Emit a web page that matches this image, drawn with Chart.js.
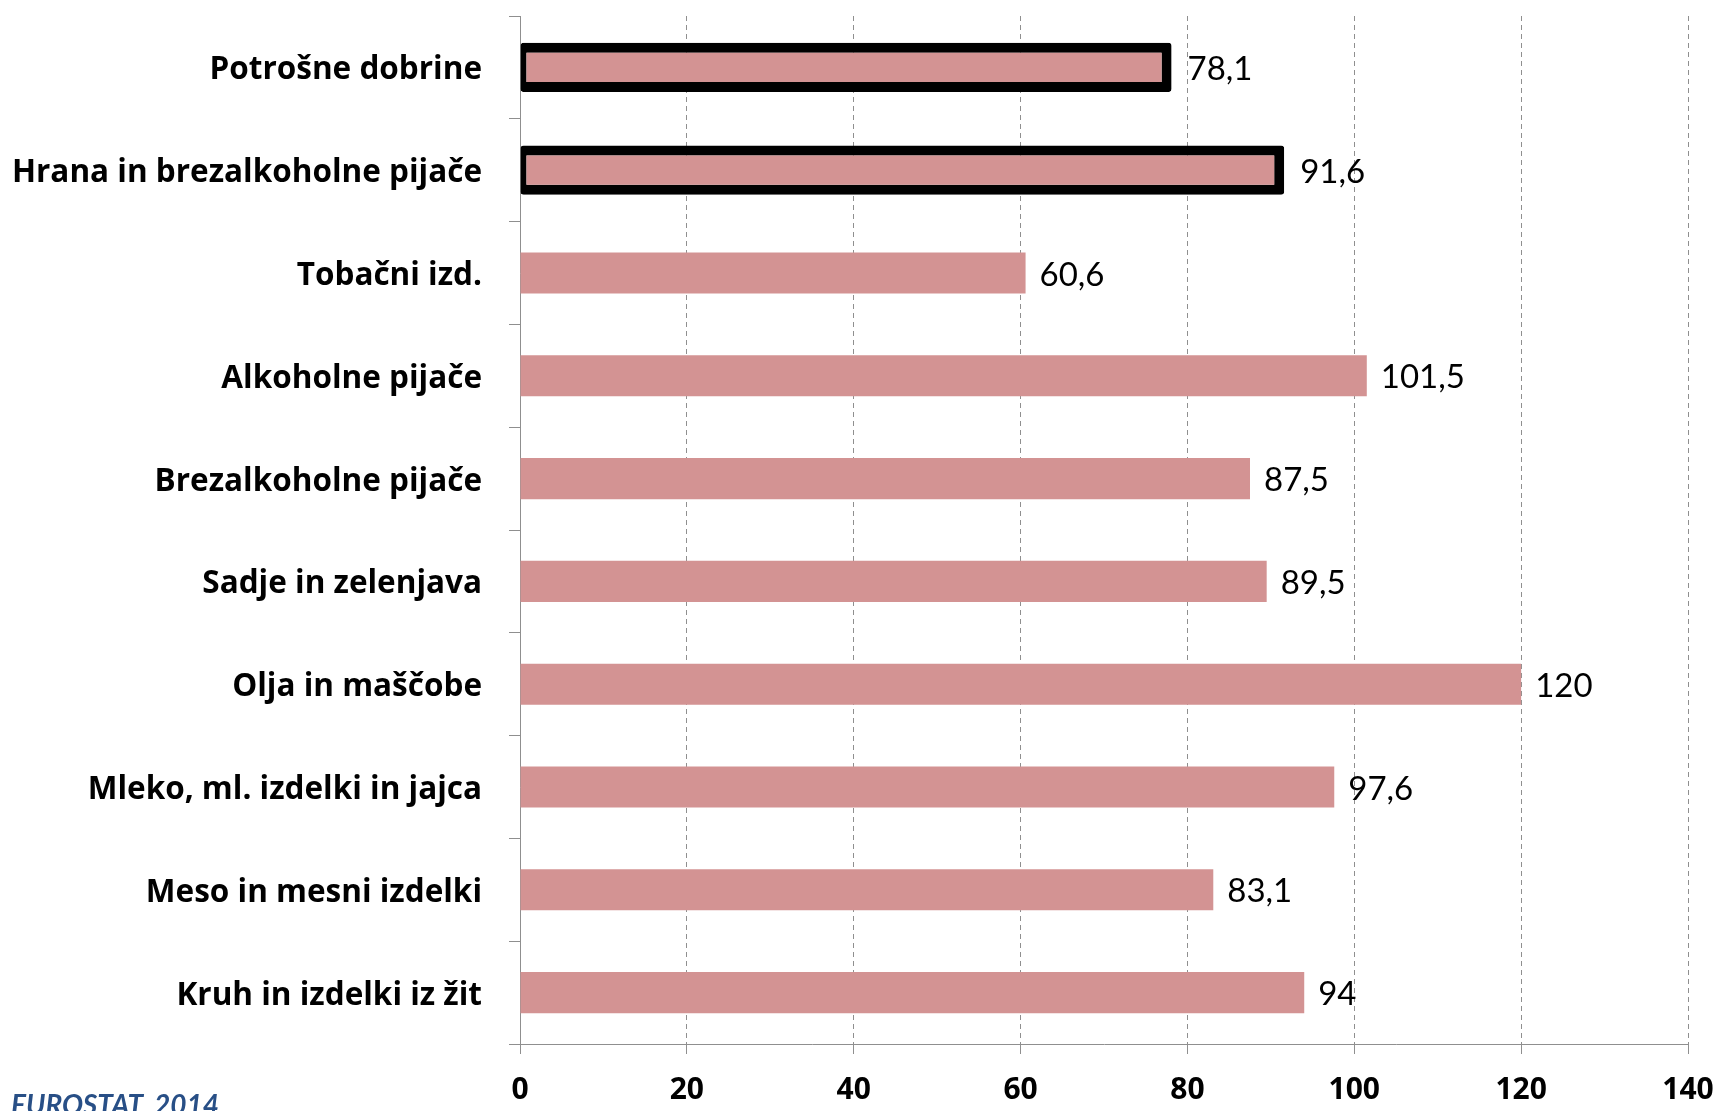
<!DOCTYPE html>
<html>
<head>
<meta charset="utf-8">
<script src="https://cdn.jsdelivr.net/npm/chart.js@4"></script>
<style>
    html, body { margin: 0; padding: 0; background: #fff; overflow: hidden; }
    #wrap { position: relative; width: 1724px; height: 1111px; }
    #source {
        position: absolute; left: 11px; top: 1090px;
        font: italic bold 28px Lato, sans-serif; line-height: 28px;
        color: #284f86; white-space: nowrap;
    }
</style>
</head>
<body>
<div id="wrap">
    <canvas id="chart"></canvas>
    <div id="source">EUROSTAT, 2014</div>
</div>
<script>
const categories = [
    'Potrošne dobrine',
    'Hrana in brezalkoholne pijače',
    'Tobačni izd.',
    'Alkoholne pijače',
    'Brezalkoholne pijače',
    'Sadje in zelenjava',
    'Olja in maščobe',
    'Mleko, ml. izdelki in jajca',
    'Meso in mesni izdelki',
    'Kruh in izdelki iz žit'
];
const values = [78.1, 91.6, 60.6, 101.5, 87.5, 89.5, 120, 97.6, 83.1, 94];
// bars drawn with the thick black outline
const highlighted = [true, true, false, false, false, false, false, false, false, false];
const xTicks = [0, 20, 40, 60, 80, 100, 120, 140];

const barColor = '#d39393';
const gridColor = '#8f8f8f';

// value labels at the end of each bar, decimal comma
const valueLabels = {
    id: 'valueLabels',
    afterDatasetsDraw(chart) {
        const ctx = chart.ctx;
        const x = chart.scales.x;
        const y = chart.scales.y;
        ctx.save();
        ctx.font = '33px Lato, sans-serif';
        ctx.fillStyle = '#000';
        ctx.textAlign = 'left';
        ctx.textBaseline = 'middle';
        values.forEach((v, i) => {
            const gap = highlighted[i] ? 16 : 14;
            ctx.fillText(String(v).replace('.', ','), x.getPixelForValue(v) + gap, y.getPixelForValue(i) + 2);
        });
        ctx.restore();
    }
};

const ctx = document.getElementById('chart').getContext('2d');
new Chart(ctx, {
    type: 'bar',
    data: {
        labels: categories,
        datasets: [{
            data: values.map((v, i) => highlighted[i] ? null : v),
            backgroundColor: barColor,
            borderWidth: 0,
            barPercentage: 0.4,
            categoryPercentage: 1,
            grouped: false
        }, {
            data: values.map((v, i) => highlighted[i] ? v : null),
            backgroundColor: barColor,
            borderColor: '#000',
            borderWidth: { top: 10, right: 10, bottom: 10, left: 6 },
            borderSkipped: false,
            borderRadius: 3,
            barPercentage: 0.48,
            categoryPercentage: 1,
            grouped: false
        }]
    },
    options: {
        indexAxis: 'y',
        responsive: true,
        maintainAspectRatio: false,
        animation: false,
        layout: { padding: { top: 16, right: 36, left: 0, bottom: 0 } },
        plugins: {
            legend: { display: false },
            tooltip: { enabled: false }
        },
        scales: {
            x: {
                min: 0,
                max: 140,
                afterBuildTicks: s => { s.ticks = xTicks.map(v => ({ value: v })); },
                afterFit: s => { s.height = 67; s.paddingLeft = 0; s.paddingRight = 0; },
                ticks: {
                    color: '#000',
                    font: { family: 'Open Sans', size: 30, weight: 'bold' },
                    padding: 18
                },
                grid: {
                    color: gridColor,
                    lineWidth: 1,
                    tickLength: 10,
                    tickBorderDash: []
                },
                border: { display: true, color: gridColor, width: 1, dash: [5, 4] }
            },
            y: {
                afterFit: s => { s.width = 520; s.paddingTop = 0; s.paddingBottom = 0; },
                ticks: {
                    color: '#000',
                    font: { family: 'Open Sans', size: 31.5, weight: 'bold' },
                    padding: 27,
                    labelOffset: 3
                },
                grid: {
                    drawOnChartArea: false,
                    offset: true,
                    color: gridColor,
                    tickLength: 11
                },
                border: { display: true, color: gridColor, width: 1 }
            }
        }
    },
    plugins: [valueLabels]
});
</script>
</body>
</html>
